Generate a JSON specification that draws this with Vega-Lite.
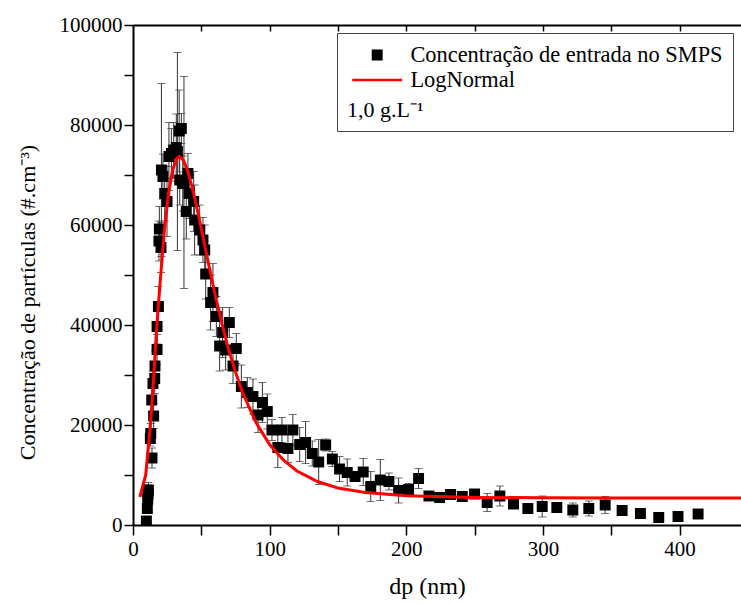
{
  "$schema": "https://vega.github.io/schema/vega-lite/v6.json",
  "width": 608,
  "height": 500,
  "autosize": {"type": "none"},
  "padding": {"left": 133, "top": 25, "right": 0, "bottom": 80},
  "background": "white",
  "config": {
    "view": {"stroke": null},
    "font": "Liberation Serif",
    "text": {"font": "Liberation Serif"},
    "legend": {"labelFont": "Liberation Serif", "titleFont": "Liberation Serif"},
    "axis": {
      "grid": false,
      "domainColor": "black",
      "domainWidth": 2,
      "tickColor": "black",
      "tickWidth": 1.5,
      "labelColor": "black",
      "titleColor": "black",
      "labelFont": "Liberation Serif",
      "titleFont": "Liberation Serif",
      "titleFontWeight": "normal",
      "labelFontSize": 21,
      "titleFontSize": 23,
      "labelOverlap": false,
      "labelFlush": false
    }
  },
  "datasets": {
    "pts": [
      {"x": 9.8, "y": 800, "err": 300},
      {"x": 10.5, "y": 3300, "err": 800},
      {"x": 10.8, "y": 5200, "err": 1500},
      {"x": 11.0, "y": 6200, "err": 1800},
      {"x": 11.3, "y": 7000, "err": 1500},
      {"x": 12.7, "y": 17300, "err": 1500},
      {"x": 13.0, "y": 18300, "err": 2000},
      {"x": 13.7, "y": 25000, "err": 2500},
      {"x": 13.9, "y": 13400, "err": 2000},
      {"x": 14.6, "y": 28300, "err": 2500},
      {"x": 15.1, "y": 21800, "err": 2500},
      {"x": 15.9, "y": 29300, "err": 3000},
      {"x": 16.1, "y": 31800, "err": 3000},
      {"x": 17.6, "y": 35100, "err": 3000},
      {"x": 17.6, "y": 39700, "err": 3500},
      {"x": 18.6, "y": 43700, "err": 4000},
      {"x": 19.0, "y": 56800, "err": 4000},
      {"x": 19.3, "y": 59200, "err": 4500},
      {"x": 20.5, "y": 55500, "err": 5000},
      {"x": 20.8, "y": 71000, "err": 17300},
      {"x": 21.9, "y": 69700, "err": 4500},
      {"x": 23.2, "y": 66300, "err": 5500},
      {"x": 24.9, "y": 64700, "err": 7000},
      {"x": 26.3, "y": 73700, "err": 6800},
      {"x": 28.1, "y": 74300, "err": 5000},
      {"x": 29.8, "y": 75000, "err": 5500},
      {"x": 31.7, "y": 75500, "err": 6700},
      {"x": 32.5, "y": 74700, "err": 19800},
      {"x": 33.8, "y": 78800, "err": 8200},
      {"x": 35.4, "y": 79300, "err": 3000},
      {"x": 34.2, "y": 69000, "err": 5000},
      {"x": 36.4, "y": 68300, "err": 5500},
      {"x": 37.3, "y": 68500, "err": 21200},
      {"x": 39.0, "y": 62700, "err": 5500},
      {"x": 40.2, "y": 70300, "err": 4000},
      {"x": 41.0, "y": 66300, "err": 5000},
      {"x": 44.4, "y": 64700, "err": 6000},
      {"x": 45.1, "y": 61000, "err": 7000},
      {"x": 48.8, "y": 59000, "err": 5000},
      {"x": 51.2, "y": 57000, "err": 4500},
      {"x": 52.5, "y": 55000, "err": 5000},
      {"x": 53.2, "y": 50200, "err": 5000},
      {"x": 56.8, "y": 44500, "err": 5500},
      {"x": 58.5, "y": 46500, "err": 5800},
      {"x": 61.0, "y": 41700, "err": 4000},
      {"x": 63.4, "y": 35800, "err": 5000},
      {"x": 65.6, "y": 38500, "err": 5000},
      {"x": 67.8, "y": 35000, "err": 4000},
      {"x": 70.5, "y": 40500, "err": 3000},
      {"x": 73.2, "y": 31800, "err": 3500},
      {"x": 75.6, "y": 35300, "err": 3000},
      {"x": 79.3, "y": 27700, "err": 4300},
      {"x": 83.7, "y": 26500, "err": 3000},
      {"x": 87.8, "y": 25700, "err": 3500},
      {"x": 91.5, "y": 22000, "err": 3500},
      {"x": 94.7, "y": 24500, "err": 4000},
      {"x": 98.3, "y": 22700, "err": 3500},
      {"x": 101.7, "y": 19000, "err": 2100},
      {"x": 106.0, "y": 15500, "err": 4000},
      {"x": 109.0, "y": 19000, "err": 2500},
      {"x": 113.4, "y": 15300, "err": 2800},
      {"x": 117.0, "y": 19000, "err": 3100},
      {"x": 122.0, "y": 16100, "err": 3400},
      {"x": 126.3, "y": 16500, "err": 4200},
      {"x": 131.2, "y": 14300, "err": 2500},
      {"x": 135.9, "y": 12600, "err": 4500},
      {"x": 141.0, "y": 16000, "err": 1200},
      {"x": 145.9, "y": 13200, "err": 1500},
      {"x": 151.2, "y": 11200, "err": 2500},
      {"x": 156.8, "y": 10500, "err": 2700},
      {"x": 162.5, "y": 9700, "err": 1000},
      {"x": 168.5, "y": 10600, "err": 2700},
      {"x": 174.0, "y": 7700, "err": 3000},
      {"x": 181.0, "y": 9000, "err": 4100},
      {"x": 187.3, "y": 8700, "err": 1700},
      {"x": 194.4, "y": 6900, "err": 2500},
      {"x": 201.7, "y": 7100, "err": 1200},
      {"x": 209.0, "y": 9300, "err": 2000},
      {"x": 216.6, "y": 5800, "err": 700},
      {"x": 224.4, "y": 5500, "err": 600},
      {"x": 232.4, "y": 6100, "err": 600},
      {"x": 241.0, "y": 5700, "err": 500},
      {"x": 250.0, "y": 6200, "err": 500},
      {"x": 259.2, "y": 4500, "err": 1800},
      {"x": 268.5, "y": 5800, "err": 2000},
      {"x": 278.5, "y": 4200, "err": 500},
      {"x": 289.0, "y": 3300, "err": 400},
      {"x": 299.5, "y": 3700, "err": 2100},
      {"x": 310.2, "y": 3500, "err": 400},
      {"x": 321.9, "y": 3000, "err": 1400},
      {"x": 333.6, "y": 3300, "err": 1500},
      {"x": 345.6, "y": 4000, "err": 1700},
      {"x": 358.0, "y": 2900, "err": 400},
      {"x": 371.4, "y": 2300, "err": 400},
      {"x": 384.8, "y": 1500, "err": 400},
      {"x": 398.9, "y": 1700, "err": 500},
      {"x": 413.6, "y": 2200, "err": 800}
    ],
    "fit": [
      {"x": 5, "y": 5600},
      {"x": 9.3, "y": 10000},
      {"x": 12.7, "y": 19900},
      {"x": 15, "y": 28900},
      {"x": 17.1, "y": 38500},
      {"x": 20, "y": 49000},
      {"x": 23, "y": 59000},
      {"x": 26, "y": 66300},
      {"x": 29, "y": 71000},
      {"x": 32, "y": 73300},
      {"x": 34, "y": 73700},
      {"x": 37, "y": 72900},
      {"x": 40, "y": 70900},
      {"x": 44, "y": 66800},
      {"x": 48, "y": 61900},
      {"x": 52, "y": 56600},
      {"x": 56, "y": 51300},
      {"x": 60, "y": 46200},
      {"x": 65, "y": 40400},
      {"x": 70, "y": 35100},
      {"x": 75, "y": 30600},
      {"x": 80, "y": 26600},
      {"x": 90, "y": 20500},
      {"x": 100, "y": 16100},
      {"x": 110, "y": 13000},
      {"x": 120, "y": 10800},
      {"x": 135, "y": 8700},
      {"x": 150, "y": 7400},
      {"x": 170, "y": 6500},
      {"x": 200, "y": 5860},
      {"x": 250, "y": 5520},
      {"x": 300, "y": 5430},
      {"x": 350, "y": 5410},
      {"x": 450, "y": 5400}
    ]
  },
  "layer": [
    {
      "data": {"name": "pts"},
      "mark": {"type": "errorbar", "ticks": true, "size": 8, "thickness": 1, "color": "#333333", "clip": true},
      "encoding": {
        "x": {
          "field": "x", "type": "quantitative",
          "scale": {"domain": [0, 445], "nice": false, "zero": false},
          "axis": null
        },
        "y": {
          "field": "y", "type": "quantitative",
          "scale": {"domain": [0, 100000], "nice": false},
          "title": "Concentração de partículas (#.cm⁻³)"
        },
        "yError": {"field": "err"}
      }
    },
    {
      "data": {"name": "pts"},
      "mark": {"type": "point", "shape": "square", "filled": true, "size": 120, "opacity": 1, "clip": true},
      "encoding": {
        "x": {
          "field": "x", "type": "quantitative",
          "scale": {"domain": [0, 445], "nice": false, "zero": false},
          "axis": {
            "orient": "top", "values": [50, 100, 150, 200, 250, 300, 350, 400],
            "labels": false, "title": null, "tickSize": -6
          }
        },
        "y": {
          "field": "y", "type": "quantitative",
          "scale": {"domain": [0, 100000], "nice": false},
          "title": "Concentração de partículas (#.cm⁻³)"
        },
        "color": {
          "datum": "Concentração de entrada no SMPS",
          "type": "nominal",
          "scale": {"domain": ["Concentração de entrada no SMPS", "LogNormal"], "range": ["black", "red"]},
          "legend": {
            "orient": "none", "legendX": 204, "legendY": 8,
            "title": "1,0 g.L⁻¹", "titleOrient": "bottom", "titleAnchor": "start",
            "titleFont": "Liberation Serif", "titleFontSize": 22, "titleFontWeight": "normal", "titleColor": "black", "titlePadding": 8,
            "labelFont": "Liberation Serif", "labelFontSize": 22.4, "labelColor": "black", "labelOffset": 22, "labelLimit": 500,
            "symbolOffset": 19, "clipHeight": 24,
            "padding": 10, "rowPadding": 1, "strokeColor": "#444444", "fillColor": "white",
            "encode": {
              "symbols": {"update": {
                "shape": {"signal": "datum.value === 'LogNormal' ? 'stroke' : 'square'"},
                "size": {"signal": "datum.value === 'LogNormal' ? 2500 : 120"},
                "fill": {"signal": "datum.value === 'LogNormal' ? 'transparent' : 'black'"},
                "stroke": {"signal": "datum.value === 'LogNormal' ? 'red' : 'black'"},
                "strokeWidth": {"signal": "datum.value === 'LogNormal' ? 2.5 : 0"},
                "opacity": {"value": 1}
              }}
            }
          }
        }
      }
    },
    {
      "data": {"name": "fit"},
      "mark": {"type": "line", "strokeWidth": 3, "clip": true},
      "encoding": {
        "x": {
          "field": "x", "type": "quantitative",
          "scale": {"domain": [0, 445], "nice": false, "zero": false},
          "axis": {
            "orient": "bottom", "values": [0, 50, 100, 150, 200, 250, 300, 350, 400],
            "labelExpr": "datum.value % 100 === 0 ? datum.label : ''",
            "format": "d", "tickSize": 10, "labelPadding": 3,
            "title": "dp (nm)", "titlePadding": 15, "titleFontSize": 24, "titleX": 294,
            "encode": {"ticks": {"update": {"y2": {"signal": "datum.value % 100 === 0 ? 10 : 5"}}}}
          }
        },
        "y": {
          "field": "y", "type": "quantitative",
          "scale": {"domain": [0, 100000], "nice": false},
          "title": "Concentração de partículas (#.cm⁻³)",
          "axis": {
            "orient": "left", "values": [0, 10000, 20000, 30000, 40000, 50000, 60000, 70000, 80000, 90000, 100000],
            "labelExpr": "datum.value % 20000 === 0 ? datum.label : ''",
            "format": "d", "tickSize": 9, "labelPadding": 2,
            "labelFontSize": 21, "titleFontSize": 22,
            "titlePadding": 20, "titleY": 277,
            "encode": {
              "ticks": {"update": {"x2": {"signal": "datum.value % 20000 === 0 ? -9 : -5"}}}
            }
          }
        },
        "color": {
          "datum": "LogNormal",
          "type": "nominal",
          "scale": {"domain": ["Concentração de entrada no SMPS", "LogNormal"], "range": ["black", "red"]},
          "legend": {
            "orient": "none", "legendX": 204, "legendY": 8,
            "title": "1,0 g.L⁻¹", "titleOrient": "bottom", "titleAnchor": "start",
            "titleFont": "Liberation Serif", "titleFontSize": 22, "titleFontWeight": "normal", "titleColor": "black", "titlePadding": 8,
            "labelFont": "Liberation Serif", "labelFontSize": 22.4, "labelColor": "black", "labelOffset": 22, "labelLimit": 500,
            "symbolOffset": 19, "clipHeight": 24,
            "padding": 10, "rowPadding": 1, "strokeColor": "#444444", "fillColor": "white",
            "encode": {
              "symbols": {"update": {
                "shape": {"signal": "datum.value === 'LogNormal' ? 'stroke' : 'square'"},
                "size": {"signal": "datum.value === 'LogNormal' ? 2500 : 120"},
                "fill": {"signal": "datum.value === 'LogNormal' ? 'transparent' : 'black'"},
                "stroke": {"signal": "datum.value === 'LogNormal' ? 'red' : 'black'"},
                "strokeWidth": {"signal": "datum.value === 'LogNormal' ? 2.5 : 0"},
                "opacity": {"value": 1}
              }}
            }
          }
        }
      }
    }
  ],
  "resolve": {"axis": {"x": "independent"}}
}
